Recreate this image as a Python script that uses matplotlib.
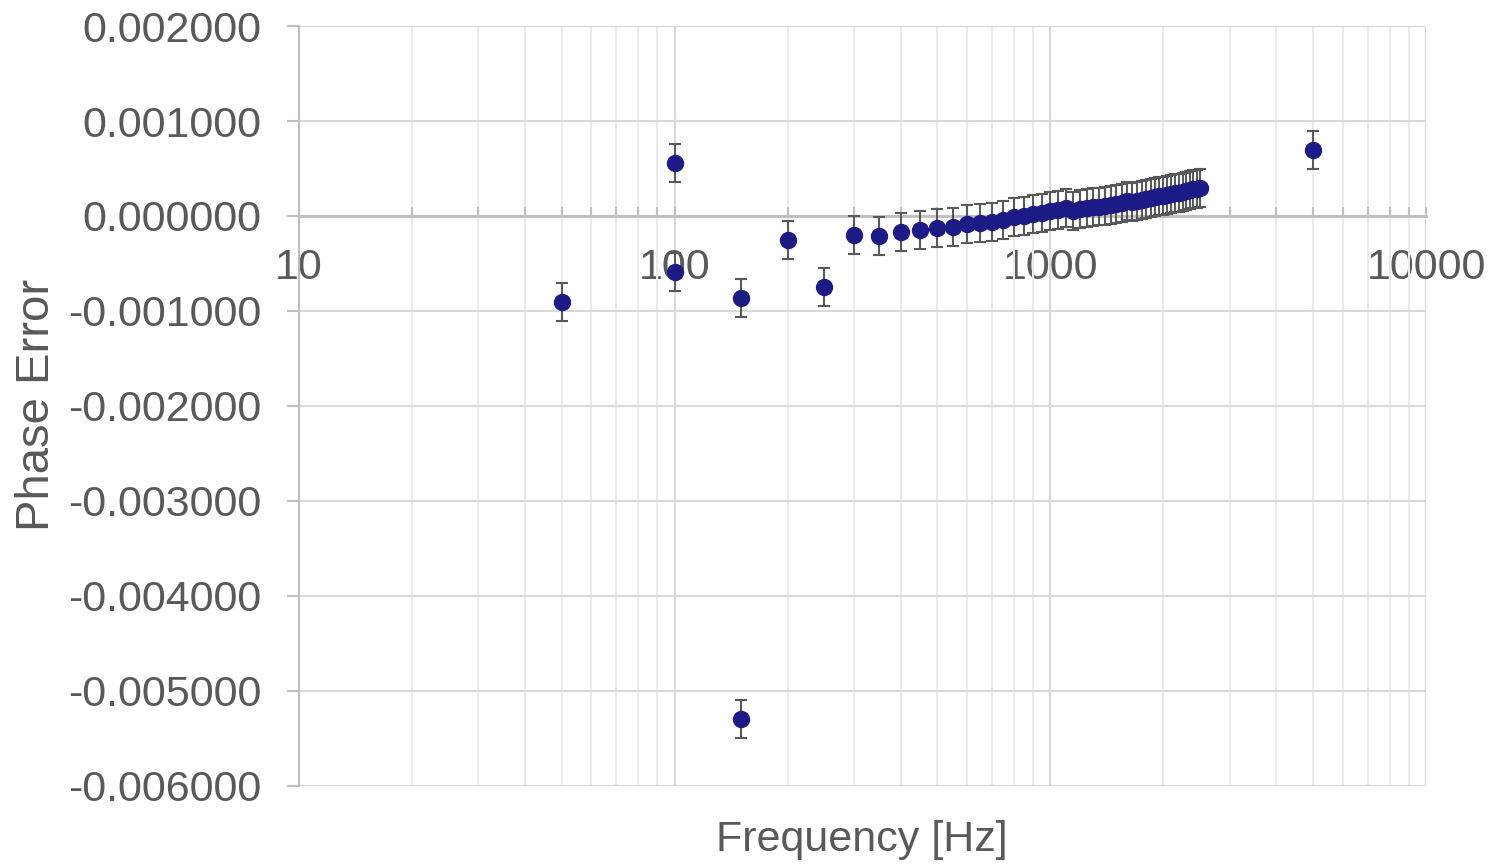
import matplotlib
matplotlib.use("Agg")
import matplotlib.pyplot as plt
import numpy as np
from matplotlib.ticker import FixedLocator, LogLocator, NullFormatter, FuncFormatter

plt.rcParams['font.family'] = ['Liberation Sans', 'DejaVu Sans']

# frequency [Hz] and phase error
freq = [50, 100, 100, 150, 150, 200, 250,
        300, 350, 400, 450, 500, 550, 600, 650, 700, 750,
        800, 850, 900, 950, 1000, 1050, 1100, 1150, 1200, 1250,
        1300, 1350, 1400, 1450, 1500, 1550, 1600, 1650, 1700, 1750,
        1800, 1850, 1900, 1950, 2000, 2050, 2100, 2150, 2200, 2250,
        2300, 2350, 2400, 2450, 2500, 5000]
phase_err = [-0.000905, 0.000558, -0.00059, -0.000863, -0.0053, -0.00025, -0.00075,
             -0.00020, -0.00021, -0.000165, -0.00015, -0.00013, -0.00012, -0.000085,
             -0.000078, -0.00006, -0.000045, -0.000015, 0.0, 0.00002, 0.000035,
             0.00005, 0.00006, 0.00008, 0.00005, 0.00007, 0.00008, 0.00009, 0.0001,
             0.00011, 0.00012, 0.00013, 0.00014, 0.00016, 0.00015, 0.00016, 0.00017,
             0.00018, 0.00019, 0.0002, 0.00021, 0.00021, 0.00022, 0.00023, 0.00024,
             0.00024, 0.00025, 0.00026, 0.00027, 0.00028, 0.00028, 0.00029, 0.000695]
err = 0.0002

y_ticks = [-0.006, -0.005, -0.004, -0.003, -0.002, -0.001, 0.0, 0.001, 0.002]

text_col = '#595959'
axis_col = '#bfbfbf'

fig = plt.figure(figsize=(14.91, 8.64), dpi=100)
ax = fig.add_axes([0.2005, 0.0903, 0.7559, 0.8796])

ax.errorbar(freq, phase_err, yerr=err, fmt='o', color='#1c1a85', markersize=11.5,
            ecolor='#595959', elinewidth=1.5, capsize=4.3, capthick=1.5, zorder=3)

ax.set_xscale('log')
ax.set_xlim(10, 10000)
ax.set_ylim(-0.006, 0.002)
ax.yaxis.set_major_locator(FixedLocator(y_ticks))
ax.yaxis.set_major_formatter(FuncFormatter(lambda v, p: f"{v:.6f}".replace("-0.000000", "0.000000")))
ax.xaxis.set_major_locator(LogLocator(base=10))
ax.xaxis.set_minor_locator(LogLocator(base=10, subs=np.arange(2, 10)))
ax.xaxis.set_minor_formatter(NullFormatter())
ax.xaxis.set_major_formatter(FuncFormatter(lambda v, p: f"{v:.0f}"))

ax.grid(True, which='major', color='#d9d9d9', linewidth=1.5, zorder=0)
ax.grid(True, which='minor', axis='x', color='#ebebeb', linewidth=1.5, zorder=0)
ax.set_axisbelow(True)

for s in ['top', 'right']:
    ax.spines[s].set_visible(False)
ax.spines['bottom'].set_position(('data', 0))
ax.spines['bottom'].set_color(axis_col)
ax.spines['bottom'].set_linewidth(2)
ax.spines['left'].set_color(axis_col)
ax.spines['left'].set_linewidth(1.5)

ax.tick_params(axis='x', which='both', direction='in', length=6.5, width=1.5,
               color=axis_col, labelsize=31, labelcolor=text_col, pad=23)
ax.tick_params(axis='y', which='major', direction='out', length=9, width=1.5,
               color=axis_col, labelsize=31, labelcolor=text_col, pad=18)

fig.text(0.025, 0.531, 'Phase Error', rotation=90, ha='center', va='center',
         fontsize=34, color=text_col)
fig.text(0.578, 0.028, 'Frequency [Hz]', ha='center', va='center',
         fontsize=31, color=text_col)

fig.savefig('out.png', dpi=100)
